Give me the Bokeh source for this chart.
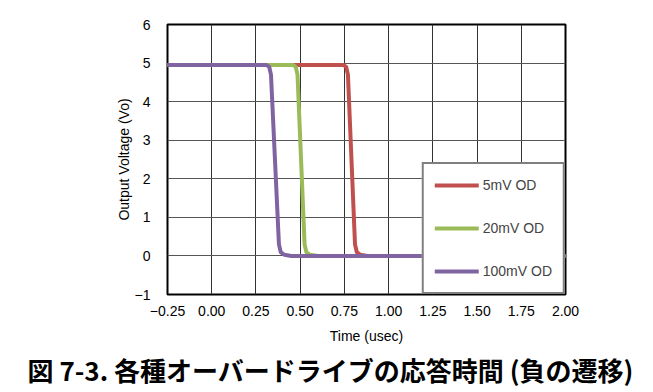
from bokeh.plotting import figure
from bokeh.models import FixedTicker, Legend, LegendItem, Range1d, Title
from bokeh.embed import file_html
from bokeh.resources import INLINE

# --- data ---
t_5mv = [-0.25, 0.745, 0.760, 0.770, 0.810, 0.820, 0.840, 0.880, 2.00]
v_5mv = [4.95, 4.95, 4.90, 4.70, 0.30, 0.10, 0.03, 0.00, 0.00]
t_20mv = [-0.25, 0.460, 0.475, 0.485, 0.525, 0.535, 0.555, 0.600, 2.00]
v_20mv = [4.95, 4.95, 4.90, 4.70, 0.30, 0.10, 0.03, 0.00, 0.00]
t_100mv = [-0.25, 0.310, 0.325, 0.335, 0.380, 0.390, 0.410, 0.450, 2.00]
v_100mv = [4.95, 4.95, 4.90, 4.70, 0.30, 0.10, 0.03, 0.00, 0.00]

series_names = ["5mV OD", "20mV OD", "100mV OD"]
series_colors = ["#C0504D", "#9BBB59", "#8064A2"]

x_ticks = [-0.25, 0.0, 0.25, 0.5, 0.75, 1.0, 1.25, 1.5, 1.75, 2.0]
x_tick_labels = ["\u22120.25", "0.00", "0.25", "0.50", "0.75", "1.00", "1.25", "1.50", "1.75", "2.00"]
y_ticks = [-1, 0, 1, 2, 3, 4, 5, 6]
y_tick_labels = ["\u22121", "0", "1", "2", "3", "4", "5", "6"]

title_text = "図 7-3. 各種オーバードライブの応答時間 (負の遷移)"
x_label = "Time (usec)"
y_label = "Output Voltage (Vo)"

FONT = "Liberation Sans"

p = figure(
    frame_width=398, frame_height=270,
    min_border_left=167, min_border_right=80, min_border_top=24, min_border_bottom=90,
    x_range=Range1d(-0.25, 2.0), y_range=Range1d(-1, 6),
    output_backend="svg", toolbar_location=None,
)
p.background_fill_color = "white"
p.border_fill_color = "white"
p.outline_line_color = "black"
p.outline_line_width = 2

renderers = []
for (tx, vy), name, col in zip([(t_5mv, v_5mv), (t_20mv, v_20mv), (t_100mv, v_100mv)], series_names, series_colors):
    r = p.line(tx, vy, line_color=col, line_width=4, line_join="round", line_cap="round")
    renderers.append(r)

p.xaxis.ticker = FixedTicker(ticks=x_ticks)
p.yaxis.ticker = FixedTicker(ticks=y_ticks)
p.xaxis.major_label_overrides = {t: l for t, l in zip(x_ticks, x_tick_labels)}
p.yaxis.major_label_overrides = {t: l for t, l in zip(y_ticks, y_tick_labels)}

for ax in (p.xaxis, p.yaxis):
    ax.axis_line_color = None
    ax.major_tick_line_color = None
    ax.minor_tick_line_color = None
    ax.major_label_text_font = FONT
    ax.major_label_text_font_size = "14px"
    ax.major_label_text_color = "black"
    ax.axis_label_text_font = FONT
    ax.axis_label_text_font_size = "14px"
    ax.axis_label_text_font_style = "normal"
    ax.axis_label_text_color = "black"

p.xaxis.axis_label = x_label
p.yaxis.axis_label = y_label
p.xaxis.major_label_standoff = 5
p.xaxis.axis_label_standoff = 9
p.yaxis.major_label_standoff = 11
p.yaxis.axis_label_standoff = 0

p.xgrid.grid_line_color = "#333333"
p.ygrid.grid_line_color = "#555555"

legend = Legend(
    items=[LegendItem(label=n, renderers=[r]) for n, r in zip(series_names, renderers)],
    location="bottom_right",
    margin=0,
    padding=11,
    spacing=23,
    glyph_width=44,
    glyph_height=20,
    label_height=20,
    label_standoff=4,
    label_text_font=FONT,
    label_text_font_size="14px",
    border_line_color="black",
    border_line_width=2,
    background_fill_color="white",
    background_fill_alpha=1.0,
)
p.add_layout(legend)

title = Title(
    text=title_text, align="left", offset=-140,
    text_font="Noto Sans CJK JP", text_font_style="bold", text_font_size="26px",
    text_color="black", standoff=4,
)
p.add_layout(title, "below")

open("out.html", "w").write(file_html(p, INLINE))
